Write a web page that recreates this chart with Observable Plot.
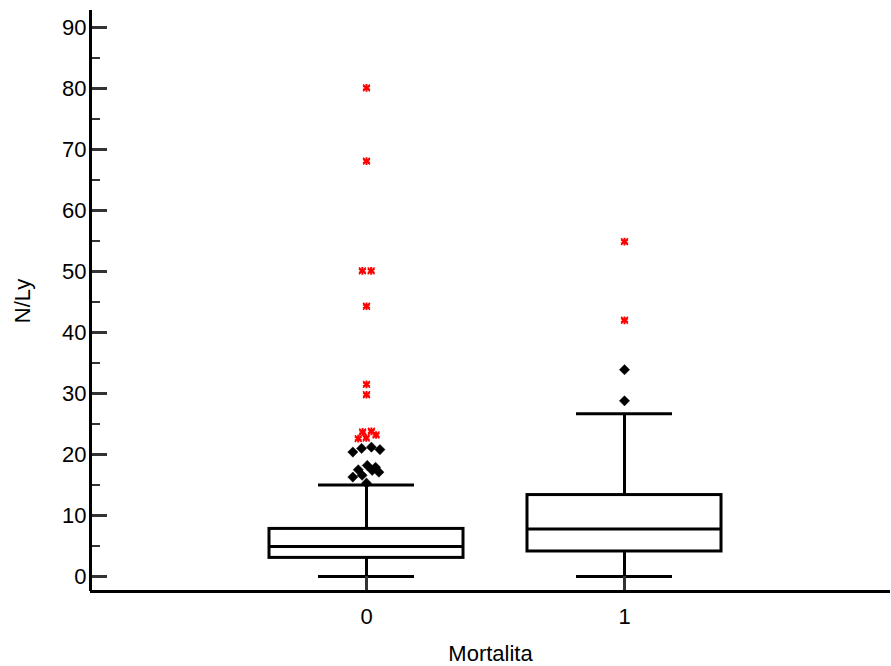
<!DOCTYPE html>
<html><head><meta charset="utf-8">
<script src="https://cdn.jsdelivr.net/npm/d3@7"></script>
<script src="https://cdn.jsdelivr.net/npm/@observablehq/plot@0.6"></script>
<style>
html,body{margin:0;padding:0;background:#fff}
svg{display:block}
#chart svg g[aria-label="y-axis tick label"],
#chart svg g[aria-label="x-axis tick label"]{font-size:22px !important;}
#chart svg g[aria-label="y-axis tick label"] text,
#chart svg g[aria-label="x-axis tick label"] text{font-size:22px !important;}
</style>
</head><body><div id="chart"></div>
<script>
// Box-plot summary per category (Mortalita)
const categories = [0, 1];
const q1 = [3.05, 4.1];
const median = [4.9, 7.8];
const q3 = [7.8, 13.35];
const whiskerLow = [0, 0];
const whiskerHigh = [15.0, 26.7];

// Outside values (black diamonds)
const outsideCat    = [0, 0, 0, 0, 0, 0, 0, 0, 0, 0, 0, 0, 1, 1];
const outsideValue  = [20.4, 21.0, 21.2, 20.8, 17.5, 18.2, 17.9, 16.3, 16.6, 17.4, 17.1, 15.3, 33.9, 28.8];
const outsideJitter = [-0.053, -0.019, 0.019, 0.052, -0.032, 0.003, 0.035, -0.053, -0.017, 0.022, 0.048, 0.0, 0, 0];

// Far-out values (red asterisks)
const farCat    = [0, 0, 0, 0, 0, 0, 0, 0, 0, 0, 0, 0, 1, 1];
const farValue  = [80.1, 68.1, 50.1, 50.1, 44.3, 31.5, 29.8, 23.7, 23.8, 22.6, 22.7, 23.2, 54.9, 42.0];
const farJitter = [0, 0, -0.016, 0.018, 0, 0, 0, -0.015, 0.019, -0.032, -0.001, 0.037, 0, 0];

const yMajorTicks = [0, 10, 20, 30, 40, 50, 60, 70, 80, 90];
const yMinorTicks = [5, 15, 25, 35, 45, 55, 65, 75, 85];
const xLabel = "Mortalita";
const yLabel = "N/Ly";

const xDomain = [-1.0698, 2.031];
const yDomain = [-2.46, 92.79];

const boxes = categories.map((c, i) => ({cat: c, q1: q1[i], median: median[i], q3: q3[i], lo: whiskerLow[i], hi: whiskerHigh[i]}));
const outside = outsideCat.map((c, i) => ({x: c + outsideJitter[i], y: outsideValue[i]}));
const far = farCat.map((c, i) => ({x: c + farJitter[i], y: farValue[i]}));

const W = 891, H = 666, mL = 90, mR = 1, mT = 10, mB = 75;
const plotW = W - mL - mR, plotH = H - mT - mB;
const boxHalf = 0.376, capHalf = 0.186;
const lw = 3;

const chart = Plot.plot({
  width: W, height: H,
  marginLeft: mL, marginRight: mR, marginTop: mT, marginBottom: mB,
  x: {type: "linear", domain: xDomain},
  y: {type: "linear", domain: yDomain},
  style: {fontFamily: "'Liberation Sans', Arial, sans-serif", fontSize: "22px", color: "#000", background: "#fff"},
  marks: [
    // whiskers
    Plot.ruleX(boxes, {x: "cat", y1: "q3", y2: "hi", stroke: "#000", strokeWidth: lw}),
    Plot.ruleX(boxes, {x: "cat", y1: "lo", y2: "q1", stroke: "#000", strokeWidth: lw}),
    // boxes
    Plot.rect(boxes, {x1: d => d.cat - boxHalf, x2: d => d.cat + boxHalf, y1: "q1", y2: "q3", fill: "#fff", stroke: "#000", strokeWidth: lw}),
    Plot.ruleY(boxes, {y: "median", x1: d => d.cat - boxHalf, x2: d => d.cat + boxHalf, stroke: "#000", strokeWidth: lw}),
    // caps
    Plot.ruleY(boxes, {y: "hi", x1: d => d.cat - capHalf, x2: d => d.cat + capHalf, stroke: "#000", strokeWidth: lw}),
    Plot.ruleY(boxes, {y: "lo", x1: d => d.cat - capHalf, x2: d => d.cat + capHalf, stroke: "#000", strokeWidth: lw}),
    // x ticks (inward)
    Plot.ruleX(categories, {insetTop: plotH - 15, stroke: "#333", strokeWidth: lw}),
    // y ticks (inward)
    Plot.ruleY(yMajorTicks, {insetRight: plotW - 17, stroke: "#333", strokeWidth: lw}),
    Plot.ruleY(yMinorTicks, {insetRight: plotW - 10, stroke: "#333", strokeWidth: 2}),
    // axis lines
    Plot.ruleX([xDomain[0]], {stroke: "#000", strokeWidth: lw}),
    Plot.ruleY([yDomain[0]], {stroke: "#000", strokeWidth: lw}),
    // outliers
    Plot.dot(outside, {x: "x", y: "y", symbol: "diamond2", r: 4.6, fill: "#000", stroke: "#000", strokeWidth: 0.5}),
    Plot.dot(far, {x: "x", y: "y", symbol: "asterisk", r: 3.6, stroke: "#ff0000", strokeWidth: 2}),
    Plot.dot(far, {x: "x", y: "y", symbol: "times", r: 3.2, stroke: "#ff0000", strokeWidth: 1.5}),
    // axes labels
    Plot.axisY({ticks: yMajorTicks, tickSize: 0, tickPadding: 4, label: null, fontSize: 22}),
    Plot.axisX({ticks: categories, tickSize: 0, tickPadding: 17, label: null, fontSize: 22, tickFormat: d => String(d)}),
    Plot.text([yLabel], {frameAnchor: "left", dx: -68, rotate: -90, textAnchor: "middle", lineAnchor: "middle", fontSize: 22, fill: "#000"}),
    Plot.text([xLabel], {frameAnchor: "bottom", dy: 62.5, textAnchor: "middle", lineAnchor: "middle", fontSize: 22, fill: "#000"})
  ]
});
document.getElementById("chart").appendChild(chart);
</script>
</body></html>
